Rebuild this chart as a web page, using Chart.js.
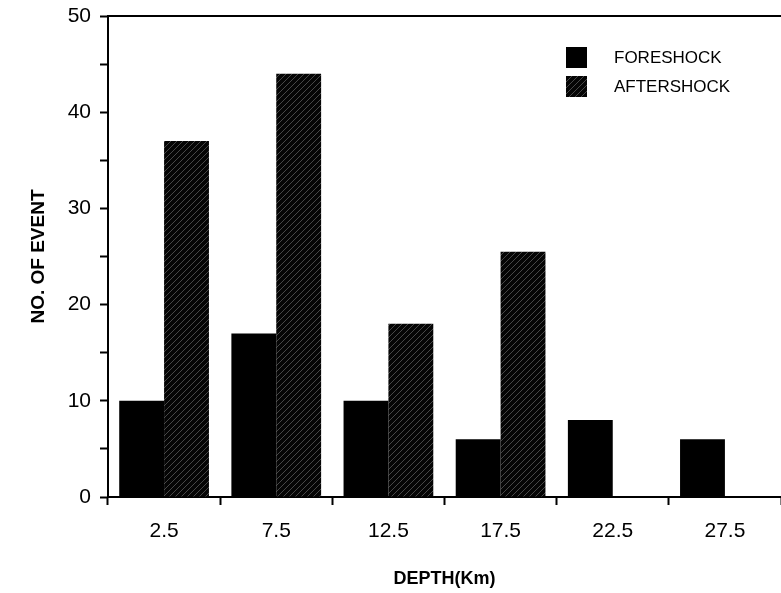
<!DOCTYPE html>
<html>
<head>
<meta charset="utf-8">
<script src="https://cdn.jsdelivr.net/npm/chart.js@4.4.1/dist/chart.umd.min.js"></script>
<style>
body { margin: 0; background: #fff; }
#wrap { position: relative; width: 781px; height: 593px; }
</style>
</head>
<body>
<div id="wrap"><canvas id="depthChart"></canvas></div>
<script>
// depth bins (km) and event counts
const depthLabels = ['2.5', '7.5', '12.5', '17.5', '22.5', '27.5'];
const foreshock = [10, 17, 10, 6, 8, 6];
const aftershock = [37, 44, 18, 25.5, 0, 0];
const yMax = 50;
const yStep = 5;

const FONT = '"Liberation Sans", Arial, Helvetica, sans-serif';
const canvas = document.getElementById('depthChart');

function hatchPattern(ctx) {
	const c = document.createElement('canvas');
	c.width = 6; c.height = 6;
	const g = c.getContext('2d');
	g.fillStyle = '#050505';
	g.fillRect(0, 0, 6, 6);
	g.strokeStyle = 'rgba(170,170,170,0.4)';
	g.lineWidth = 1;
	g.beginPath();
	g.moveTo(0, 6); g.lineTo(6, 0);
	g.moveTo(-1, 1); g.lineTo(1, -1);
	g.moveTo(5, 7); g.lineTo(7, 5);
	g.stroke();
	return ctx.createPattern(c, 'repeat');
}

// legend drawn as a box list inside the plot, top right
const cornerLegend = {
	id: 'cornerLegend',
	afterDraw(chart, args, opts) {
		const {ctx, chartArea} = chart;
		ctx.save();
		ctx.font = '17px ' + FONT;
		ctx.textBaseline = 'middle';
		chart.data.datasets.forEach((ds, i) => {
			const x = chartArea.left + opts.x;
			const y = chartArea.top + opts.y + i * opts.rowGap;
			ctx.fillStyle = ds.backgroundColor;
			ctx.fillRect(x, y, opts.box, opts.box);
			ctx.fillStyle = '#000';
			ctx.fillText(ds.label, x + opts.box + opts.gap, y + opts.box / 2 + 1);
		});
		ctx.restore();
	}
};

let depthChart = new Chart(canvas, {
	type: 'bar',
	data: {
		labels: depthLabels,
		datasets: [{
			label: 'FORESHOCK',
			data: foreshock,
			backgroundColor: '#000',
			borderWidth: 0
		}, {
			label: 'AFTERSHOCK',
			data: aftershock,
			backgroundColor: hatchPattern(canvas.getContext('2d')),
			borderWidth: 0
		}]
	},
	options: {
		responsive: true,
		maintainAspectRatio: false,
		animation: false,
		layout: { padding: 0 },
		datasets: { bar: { categoryPercentage: 0.8, barPercentage: 1.0 } },
		plugins: {
			legend: { display: false },
			tooltip: { enabled: false },
			cornerLegend: { x: 458, y: 31, box: 21, rowGap: 29, gap: 27 }
		},
		scales: {
			x: {
				grid: { drawOnChartArea: false, tickLength: 8, tickWidth: 2, tickColor: '#000', offset: true },
				border: { display: true, color: '#000', width: 2 },
				ticks: { color: '#000', font: { family: FONT, size: 21 }, padding: 14 },
				title: {
					display: true, text: 'DEPTH(Km)', color: '#000',
					font: { family: FONT, size: 18, weight: 'bold' },
					padding: { top: 0, bottom: 3 }
				},
				afterFit(s) { s.height = 96; }
			},
			xTop: {
				type: 'category',
				position: 'top',
				grid: { display: false },
				border: { display: true, color: '#000', width: 2 },
				ticks: { display: false },
				afterFit(s) { s.height = 16; }
			},
			y: {
				min: 0,
				max: yMax,
				grid: { drawOnChartArea: false, tickLength: 8, tickWidth: 2, tickColor: '#000' },
				border: { display: true, color: '#000', width: 2 },
				ticks: {
					stepSize: yStep,
					color: '#000',
					font: { family: FONT, size: 21 },
					padding: 9,
					callback: v => (v % 10 === 0 ? v : '')
				},
				title: {
					display: true, text: 'NO. OF EVENT', color: '#000',
					font: { family: FONT, size: 19, weight: 'bold' },
					padding: { top: 27, bottom: 0 }
				},
				afterFit(s) {
					s.width = 108;
					s.paddingTop = 0;
					s.paddingBottom = 0;
				}
			}
		}
	},
	plugins: [cornerLegend]
});
</script>
</body>
</html>
